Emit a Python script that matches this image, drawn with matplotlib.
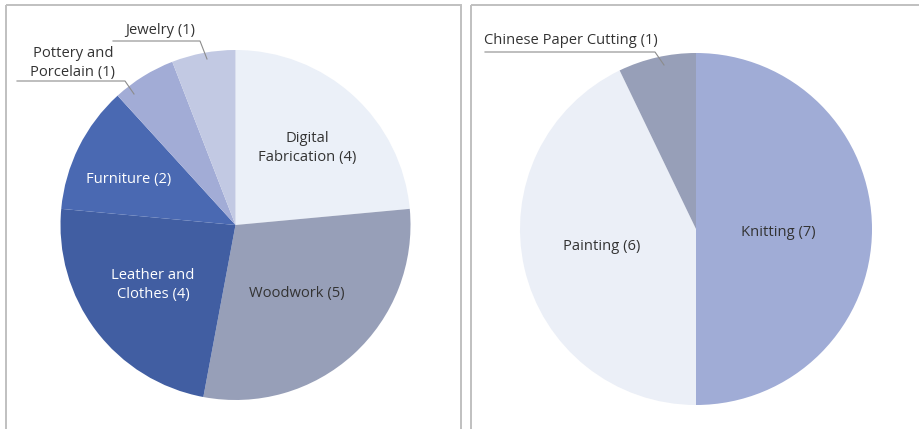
import matplotlib
matplotlib.use('Agg')
import matplotlib.pyplot as plt
from matplotlib.patches import Rectangle

plt.rcParams['font.family'] = ['Open Sans', 'DejaVu Sans']

# left pie: craft categories (number of projects)
left_names = ['Digital\nFabrication', 'Woodwork', 'Leather and\nClothes', 'Furniture',
              'Pottery and\nPorcelain', 'Jewelry']
left_counts = [4, 5, 4, 2, 1, 1]
left_colors = ['#ebf0f8', '#979fb8', '#415ea2', '#4a69b2', '#a2acd6', '#c2c9e3']

# right pie
right_names = ['Knitting', 'Painting', 'Chinese Paper Cutting']
right_counts = [7, 6, 1]
right_colors = ['#a0acd6', '#ebeff7', '#979fb8']

fig = plt.figure(figsize=(9.2, 4.29), dpi=100)
ax = fig.add_axes([0, 0, 1, 1])


def draw_pie(center, radius, counts, colors):
    # y axis is flipped, so counterclock=True draws clockwise on screen
    ax.pie(counts, colors=colors, startangle=-90, counterclock=True,
           center=center, radius=radius, frame=True,
           wedgeprops=dict(linewidth=0))


draw_pie((235.5, 225), 175, left_counts, left_colors)
draw_pie((696, 229), 176, right_counts, right_colors)
ax.set_xlim(0, 920)
ax.set_ylim(429, 0)
ax.set_aspect('auto')
ax.axis('off')

# panel frames
for x0, w in [(6, 455), (471, 470)]:
    ax.add_patch(Rectangle((x0, 5), w, 440, fill=False, ec='#c0c0c0', lw=1.4))

dark = '#333333'
fs = 10.6
ls = 1.4
# inside labels: (x, y, color)
left_pos = [(307, 148, dark), (297, 293, dark), (153, 285, 'white'), (129, 179, 'white')]
for name, n, (x, y, c) in zip(left_names, left_counts, left_pos):
    ax.text(x, y, f'{name} ({n})', ha='center', va='center', color=c,
            fontsize=fs, linespacing=ls)

right_pos = [(778, 233), (602, 246)]
for name, n, (x, y) in zip(right_names, right_counts, right_pos):
    ax.text(x, y, f'{name} ({n})', ha='center', va='center', color=dark, fontsize=fs)

# outside labels with leader lines: text xy, line start x, line end x, y, tip
outside = [
    (left_names[4], left_counts[4], (73, 63), (17, 125, 81), (134, 94)),
    (left_names[5], left_counts[5], (160, 31), (113, 200, 41), (207, 59)),
    (right_names[2], right_counts[2], (571, 41), (485, 655, 52), (664, 65)),
]
for name, n, (tx, ty), (x0, x1, ly), (px, py) in outside:
    ax.text(tx, ty, f'{name} ({n})', ha='center', va='center', color=dark,
            fontsize=fs, linespacing=ls)
    ax.plot([x0, x1, px], [ly, ly, py], color='#8c8c8c', lw=0.8)

fig.savefig('out.png', dpi=100)
